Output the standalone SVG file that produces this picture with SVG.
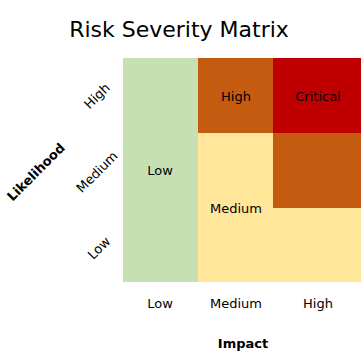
<svg xmlns="http://www.w3.org/2000/svg" width="361" height="358" viewBox="0 0 361 358">
<style>
text{font-family:"DejaVu Sans",Verdana,sans-serif;fill:#000}
.t{font-size:22px;text-anchor:middle}
.l{font-size:13px;text-anchor:middle}
.b{font-size:13px;font-weight:bold;text-anchor:middle}
</style>
<rect width="361" height="358" fill="#fff"/>
<text class="t" x="179" y="37">Risk Severity Matrix</text>
<g id="low"><rect x="123" y="58" width="75" height="224" fill="#c6e0b4"/><text class="l" x="160" y="175">Low</text></g>
<g id="medium"><rect x="198" y="133" width="163" height="149" fill="#ffe699"/><text class="l" x="236" y="213">Medium</text></g>
<g id="high"><rect x="198" y="58" width="75" height="75" fill="#c55a11"/><text class="l" x="236" y="101">High</text></g>
<g id="high2"><rect x="273" y="133" width="88" height="75" fill="#c55a11"/></g>
<g id="critical"><rect x="273" y="58" width="88" height="75" fill="#c00000"/><text class="l" x="318" y="101">Critical</text></g>
<g id="xaxis">
<text class="l" x="160" y="308">Low</text>
<text class="l" x="236" y="308">Medium</text>
<text class="l" x="318" y="308">High</text>
<text class="b" x="243" y="348">Impact</text>
</g>
<g id="yaxis">
<text class="l" transform="translate(97,96) rotate(-45)" y="4.5">High</text>
<text class="l" transform="translate(97,172) rotate(-45)" y="4.5">Medium</text>
<text class="l" transform="translate(99,248) rotate(-45)" y="4.5">Low</text>
<text class="b" transform="translate(36,172) rotate(-45)" y="4.5">Likelihood</text>
</g>
<g id="connectors"/>
</svg>
